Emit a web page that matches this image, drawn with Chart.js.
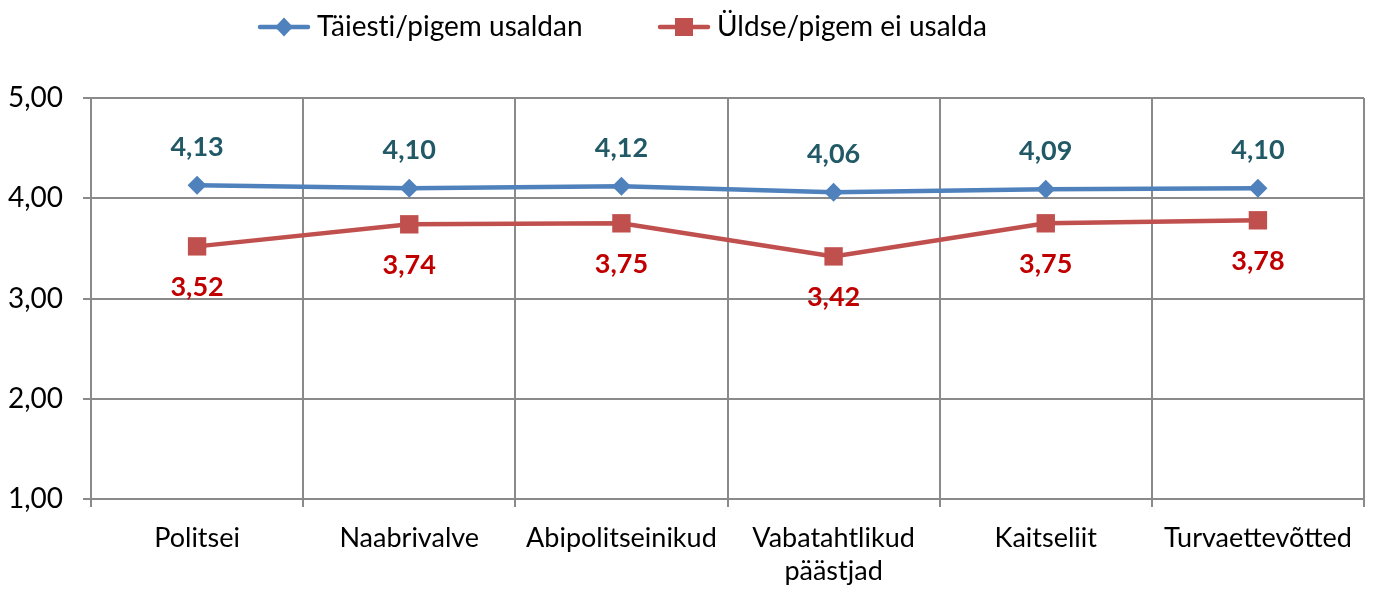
<!DOCTYPE html>
<html><head><meta charset="utf-8">
<script src="https://cdn.jsdelivr.net/npm/chart.js@4.4.1/dist/chart.umd.min.js"></script>
<style>html,body{margin:0;padding:0;background:#fff;}#wrap{width:1377px;height:589px;position:relative;}</style>
</head><body><div id="wrap"><canvas id="c"></canvas></div>
<script>
const categories = ["Politsei", "Naabrivalve", "Abipolitseinikud", ["Vabatahtlikud", "päästjad"], "Kaitseliit", "Turvaettevõtted"];
const seriesNames = ["Täiesti/pigem usaldan", "Üldse/pigem ei usalda"];
const trustValues = [4.13, 4.10, 4.12, 4.06, 4.09, 4.10];
const distrustValues = [3.52, 3.74, 3.75, 3.42, 3.75, 3.78];
const yTicks = [1, 2, 3, 4, 5];

const FONT = "Lato, 'Noto Sans', sans-serif";
const fmt = v => v.toFixed(2).replace('.', ',');

const labelPlugin = {
  id: 'valueLabels',
  afterDatasetsDraw(chart) {
    const ctx = chart.ctx;
    ctx.save();
    ctx.font = "bold 27px " + FONT;
    ctx.textAlign = 'center';
    ctx.textBaseline = 'middle';
    chart.data.datasets.forEach((ds, i) => {
      const meta = chart.getDatasetMeta(i);
      meta.data.forEach((pt, j) => {
        ctx.fillStyle = ds.labelColor;
        const dy = i === 0 ? -38 : 41;
        ctx.fillText(fmt(ds.data[j]), pt.x, pt.y + dy);
      });
    });
    ctx.restore();
  }
};

const legendPlugin = {
  id: 'customLegend',
  afterDraw(chart) {
    const ctx = chart.ctx;
    ctx.save();
    ctx.font = "28px " + FONT;
    if ('letterSpacing' in ctx) ctx.letterSpacing = '0.01px';
    ctx.textBaseline = 'middle';
    const y = 27;
    const starts = [260, 660];
    chart.data.datasets.forEach((ds, i) => {
      const x0 = starts[i];
      ctx.strokeStyle = ds.borderColor;
      ctx.lineWidth = 4.5;
      ctx.lineCap = 'round';
      ctx.beginPath(); ctx.moveTo(x0, y); ctx.lineTo(x0 + 48, y); ctx.stroke();
      ctx.fillStyle = ds.borderColor;
      const cx = x0 + 24;
      if (i === 0) {
        ctx.beginPath(); ctx.moveTo(cx, y - 9.5); ctx.lineTo(cx + 9, y); ctx.lineTo(cx, y + 9.5); ctx.lineTo(cx - 9, y); ctx.closePath(); ctx.fill();
      } else {
        ctx.fillRect(cx - 9, y - 9, 18, 18);
      }
      ctx.fillStyle = '#000';
      ctx.textAlign = 'left';
      ctx.fillText(ds.label, x0 + 57, y);
    });
    ctx.restore();
  }
};

new Chart(document.getElementById('c'), {
  type: 'line',
  data: {
    labels: categories,
    datasets: [
      { label: seriesNames[0], data: trustValues, borderColor: '#4F81BD', backgroundColor: '#4F81BD', borderWidth: 4.5,
        pointStyle: 'rectRot', pointRadius: 9.5, pointHoverRadius: 9.5, pointBorderWidth: 0, labelColor: '#215967', tension: 0 },
      { label: seriesNames[1], data: distrustValues, borderColor: '#C0504D', backgroundColor: '#C0504D', borderWidth: 4.5,
        pointStyle: 'rect', pointRadius: 13, pointHoverRadius: 13, pointBorderWidth: 0, labelColor: '#C00000', tension: 0 }
    ]
  },
  options: {
    responsive: true, maintainAspectRatio: false, animation: false,
    layout: { padding: { top: 98, right: 11, left: 0, bottom: 0 } },
    plugins: { legend: { display: false }, tooltip: { enabled: false } },
    scales: {
      x: {
        offset: true,
        grid: { offset: true, color: '#8a8a8a', lineWidth: 2, tickLength: 8, drawTicks: true },
        border: { color: '#8a8a8a', width: 2 },
        ticks: { color: '#000', font: { family: FONT, size: 27, lineHeight: 1.25 }, padding: 14, maxRotation: 0, autoSkip: false },
        afterFit(s) { s.height = 90; }
      },
      y: {
        min: 1, max: 5,
        afterBuildTicks(s) { s.ticks = yTicks.map(v => ({ value: v })); },
        grid: { color: '#8a8a8a', lineWidth: 2, tickLength: 8 },
        border: { color: '#8a8a8a', width: 2 },
        ticks: { color: '#000', font: { family: FONT, size: 28 }, padding: 20, callback: v => fmt(v) },
        afterFit(s) { s.width = 91; }
      }
    }
  },
  plugins: [labelPlugin, legendPlugin]
});
</script></body></html>
